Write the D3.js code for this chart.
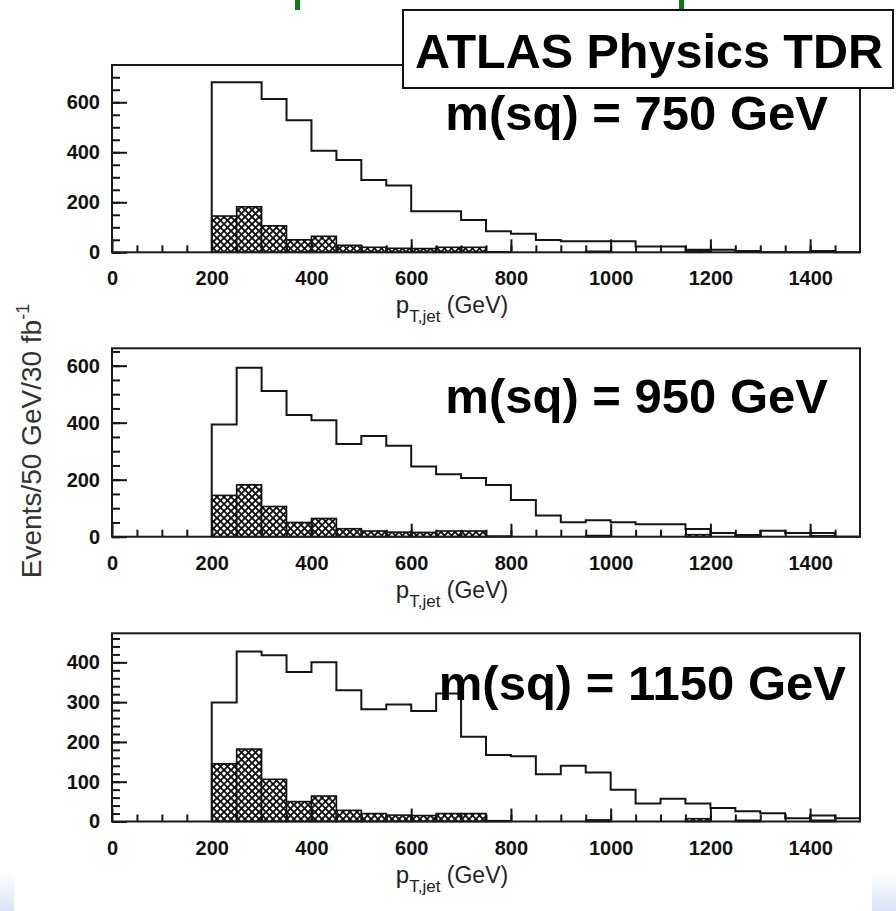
<!DOCTYPE html>
<html>
<head>
<meta charset="utf-8">
<script src="https://cdn.jsdelivr.net/npm/d3@7/dist/d3.min.js"></script>
<style>
  html, body { margin: 0; padding: 0; background: #ffffff; }
  svg { display: block; }
  text { font-family: "Liberation Sans", Arial, Helvetica, sans-serif; }
</style>
</head>
<body>
<svg id="chart" width="896" height="911"></svg>
<script>
// Lower edges of the 50 GeV jet-pT bins
const binLow = [200, 250, 300, 350, 400, 450, 500, 550, 600, 650, 700, 750, 800,
                850, 900, 950, 1000, 1050, 1100, 1150, 1200, 1250, 1300, 1350, 1400, 1450];
const binWidth = 50;

// Standard Model background (hatched), same in every panel
const background = [145, 182, 106, 50, 64, 28, 20, 16, 15, 20, 20, 2, 0,
                    0, 0, 4, 0, 0, 0, 7, 0, 3, 0, 0, 3, 0];

// Signal + background for the three squark masses
const total750  = [680, 680, 613, 528, 406, 369, 289, 267, 164, 164, 129, 84, 74,
                   49, 44, 44, 44, 23, 23, 10, 10, 5, 0, 0, 5, 0];
const total950  = [394, 593, 511, 427, 409, 325, 353, 319, 246, 219, 206, 181, 129,
                   74, 51, 58, 51, 44, 44, 27, 13, 6, 21, 13, 13, 0];
const total1150 = [299, 427, 418, 376, 400, 330, 282, 294, 278, 322, 213, 167, 164,
                   119, 140, 123, 80, 45, 57, 45, 34, 26, 21, 8, 15, 8];

const panelLabels = ["m(sq) = 750 GeV", "m(sq) = 950 GeV", "m(sq) = 1150 GeV"];
const yMax = [749, 661, 473];
const yMajorTicks = [[0, 200, 400, 600], [0, 200, 400, 600], [0, 100, 200, 300, 400]];
const yMinorStep = [50, 50, 20];
const xMajorTicks = [0, 200, 400, 600, 800, 1000, 1200, 1400];
const xDomain = [0, 1500];
const titleText = "ATLAS Physics TDR";
const yTitle = "Events/50 GeV/30 fb";

const svg = d3.select("#chart");

// Slide background peeking out at the bottom corners
const defs = svg.append("defs");
const fade = defs.append("linearGradient").attr("id", "fade")
  .attr("x1", 0).attr("y1", 0).attr("x2", 0).attr("y2", 1);
fade.append("stop").attr("offset", "0%").attr("stop-color", "#ffffff");
fade.append("stop").attr("offset", "100%").attr("stop-color", "#d9e3f3");
svg.append("rect").attr("x", 0).attr("y", 872).attr("width", 14).attr("height", 39).attr("fill", "url(#fade)");
svg.append("rect").attr("x", 872).attr("y", 872).attr("width", 24).attr("height", 39).attr("fill", "url(#fade)");

// Cross-hatch fill
const hatch = defs.append("pattern").attr("id", "hatch")
  .attr("patternUnits", "userSpaceOnUse").attr("width", 7).attr("height", 7);
hatch.append("rect").attr("width", 7).attr("height", 7).attr("fill", "#ffffff");
hatch.append("path").attr("d", "M-2,2 L2,-2 M0,7 L7,0 M5,9 L9,5").attr("stroke", "#111").attr("stroke-width", 1.9);
hatch.append("path").attr("d", "M-2,5 L2,9 M0,0 L7,7 M5,-2 L9,2").attr("stroke", "#111").attr("stroke-width", 1.9);

// Green fragments of the slide title
svg.append("rect").attr("x", 295).attr("y", 0).attr("width", 5).attr("height", 10).attr("fill", "#0f7a14");
svg.append("rect").attr("x", 679).attr("y", 0).attr("width", 5).attr("height", 10).attr("fill", "#0f7a14");

const left = 112, right = 860;
const panels = [
  { top: 65,  bottom: 252.3, data: total750 },
  { top: 348.3, bottom: 536.7, data: total950 },
  { top: 633.3, bottom: 821.5, data: total1150 }
];

const x = d3.scaleLinear().domain(xDomain).range([left, right]);
const fmt = d3.format("d");

panels.forEach((p, i) => {
  const y = d3.scaleLinear().domain([0, yMax[i]]).range([p.bottom, p.top]);
  const g = svg.append("g");

  // hatched background bars
  g.selectAll("rect.bg").data(binLow.map((lo, k) => ({ lo, v: background[k] })).filter(d => d.v > 0))
    .enter().append("rect")
    .attr("x", d => x(d.lo)).attr("width", d => x(d.lo + binWidth) - x(d.lo))
    .attr("y", d => y(d.v)).attr("height", d => y(0) - y(d.v))
    .attr("fill", "url(#hatch)").attr("stroke", "#111").attr("stroke-width", 1.6);

  // outline histogram
  const pts = [[binLow[0], 0]];
  binLow.forEach((lo, k) => { pts.push([lo, p.data[k]]); pts.push([lo + binWidth, p.data[k]]); });
  pts.push([binLow[binLow.length - 1] + binWidth, 0]);
  g.append("path")
    .attr("d", d3.line().x(d => x(d[0])).y(d => y(d[1]))(pts))
    .attr("fill", "none").attr("stroke", "#151515").attr("stroke-width", 2);

  // x ticks: minor then major
  const xMinor = d3.range(50, 1500, 50);
  g.append("g").attr("transform", `translate(0,${p.bottom})`)
    .call(d3.axisBottom(x).tickValues(xMinor).tickSize(-7).tickFormat(""))
    .call(a => a.select(".domain").remove())
    .call(a => a.selectAll("line").attr("stroke", "#151515").attr("stroke-width", 2));
  g.append("g").attr("transform", `translate(0,${p.bottom})`)
    .call(d3.axisBottom(x).tickValues(xMajorTicks).tickSize(-13).tickPadding(19).tickFormat(fmt))
    .call(a => a.select(".domain").remove())
    .call(a => a.selectAll("line").attr("stroke", "#151515").attr("stroke-width", 2))
    .call(a => a.selectAll("text").attr("font-size", 20).attr("font-weight", "bold")
      .attr("fill", "#111").attr("font-family", "'Liberation Sans', Arial, sans-serif"));

  // y ticks: minor then major
  const yMinor = d3.range(0, yMax[i], yMinorStep[i]);
  g.append("g").attr("transform", `translate(${left},0)`)
    .call(d3.axisLeft(y).tickValues(yMinor).tickSize(-8).tickFormat(""))
    .call(a => a.select(".domain").remove())
    .call(a => a.selectAll("line").attr("stroke", "#151515").attr("stroke-width", 2));
  g.append("g").attr("transform", `translate(${left},0)`)
    .call(d3.axisLeft(y).tickValues(yMajorTicks[i]).tickSize(-15).tickPadding(12).tickFormat(fmt))
    .call(a => a.select(".domain").remove())
    .call(a => a.selectAll("line").attr("stroke", "#151515").attr("stroke-width", 2))
    .call(a => a.selectAll("text").attr("font-size", 20).attr("font-weight", "bold")
      .attr("fill", "#111").attr("font-family", "'Liberation Sans', Arial, sans-serif"));

  // frame
  g.append("rect").attr("x", left).attr("y", p.top)
    .attr("width", right - left).attr("height", p.bottom - p.top)
    .attr("fill", "none").attr("stroke", "#1a1a1a").attr("stroke-width", 2);

  // x-axis title
  const t = g.append("text").attr("x", 452).attr("y", p.bottom + 61)
    .attr("text-anchor", "middle").attr("fill", "#222");
  t.append("tspan").attr("font-size", 24).text("p");
  t.append("tspan").attr("font-size", 17).attr("dy", 9).text("T,jet");
  t.append("tspan").attr("font-size", 23).attr("dy", -9).text(" (GeV)");
});

// mass labels
const labelPos = [[828, 130], [828, 413], [846, 700]];
panelLabels.forEach((s, i) => {
  svg.append("text").attr("x", labelPos[i][0]).attr("y", labelPos[i][1])
    .attr("text-anchor", "end").attr("font-size", 49).attr("font-weight", "bold")
    .attr("fill", "#000").text(s);
});

// experiment box
svg.append("rect").attr("x", 403).attr("y", 10).attr("width", 490).attr("height", 78)
  .attr("fill", "#fff").attr("stroke", "#111").attr("stroke-width", 2);
svg.append("text").attr("x", 649).attr("y", 68).attr("text-anchor", "middle")
  .attr("font-size", 48).attr("font-weight", "bold").attr("fill", "#000")
  .attr("textLength", 468).attr("lengthAdjust", "spacingAndGlyphs").text(titleText);

// y-axis title
const yt = svg.append("text").attr("transform", "translate(41,441) rotate(-90)")
  .attr("text-anchor", "middle").attr("fill", "#333").attr("font-size", 28);
yt.append("tspan").text(yTitle);
yt.append("tspan").attr("font-size", 18).attr("dy", -12).text("-1");
</script>
</body>
</html>
